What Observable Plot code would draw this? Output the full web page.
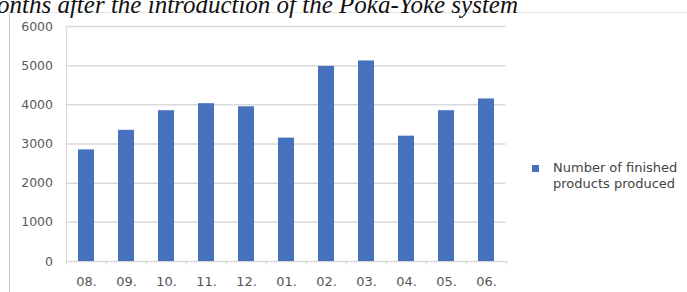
<!DOCTYPE html>
<html><head><meta charset="utf-8">
<script src="https://cdn.jsdelivr.net/npm/d3@7"></script>
<script src="https://cdn.jsdelivr.net/npm/@observablehq/plot@0.6"></script>
<style>
body{margin:0;background:#fff;width:687px;height:292px;overflow:hidden;position:relative;}
#title{position:absolute;left:-3px;top:-10px;font:italic 25px "Liberation Serif";white-space:nowrap;color:#111;line-height:29px;z-index:2;}
#box{position:absolute;left:9px;top:12px;width:678px;height:280px;border-left:1.5px solid #c8c8c8;border-top:1.5px solid #e6e6e6;box-sizing:border-box;}
#chart{position:absolute;left:0;top:0;}
#legend{position:absolute;left:532px;top:160px;font:13px "DejaVu Sans";color:#444;}
#legend .sw{position:absolute;left:0;top:5px;width:7px;height:7px;background:#4672bd;}
#legend .tx{position:absolute;left:21px;top:0;line-height:16px;white-space:nowrap;}
</style></head>
<body>
<div id="box"></div>
<div id="chart"></div>
<div id="title">onths after the introduction of the Poka-Yoke system</div>
<div id="legend"><div class="sw"></div><div class="tx">Number of finished<br>products produced</div></div>
<script>
const months = ["08.","09.","10.","11.","12.","01.","02.","03.","04.","05.","06."];
const produced = [2850,3350,3850,4030,3950,3150,4980,5120,3200,3850,4150];
const yTicks = [0,1000,2000,3000,4000,5000,6000];
const data = months.map((m,i)=>({month:m, value:produced[i]}));
const grid = "#d9d9d9";
const chart = Plot.plot({
  width:687, height:292,
  marginLeft:65.5, marginRight:181.5, marginTop:26, marginBottom:31,
  style:{background:"transparent", fontFamily:"DejaVu Sans", fontSize:"12.5px", color:"#5a5a5a"},
  x:{domain:months, paddingInner:0.6, paddingOuter:0.3, label:null},
  y:{domain:[0,6000], label:null},
  marks:[
    Plot.ruleY(yTicks.slice(1), {stroke:grid, strokeWidth:1.5}),
    Plot.ruleX([months[0]], {x:d=>d, dx:-20, y1:0, y2:6000, stroke:grid, strokeWidth:1}),
    Plot.ruleX(months, {x:d=>d, dx:-20, y1:0, y2:0, insetBottom:-4, stroke:grid}),
    Plot.ruleX([months[months.length-1]], {x:d=>d, dx:20, y1:0, y2:0, insetBottom:-4, stroke:grid}),
    Plot.ruleY([0], {stroke:grid, strokeWidth:1.5}),
    Plot.barY(data, {x:"month", y:"value", fill:"#4672bd"}),
    Plot.axisY(yTicks, {tickSize:0, tickPadding:13, tickFormat:d=>String(d), fill:"#5a5a5a", label:null}),
    Plot.axisX({tickSize:0, tickPadding:15, fontSize:13, fill:"#555", label:null})
  ]
});
document.getElementById("chart").appendChild(chart);
</script>
</body></html>
